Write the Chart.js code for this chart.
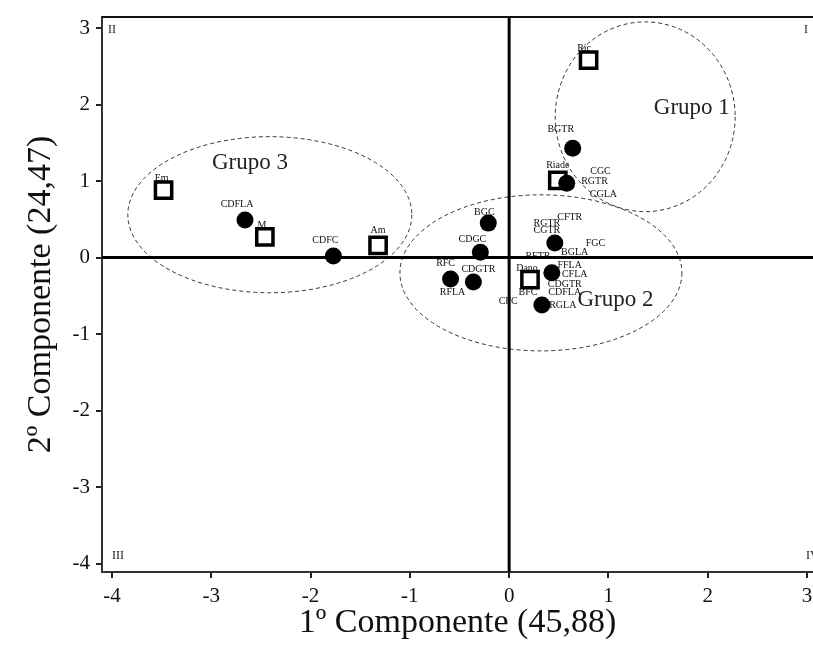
<!DOCTYPE html>
<html>
<head>
<meta charset="utf-8">
<script src="https://cdn.jsdelivr.net/npm/chart.js@4"></script>
<style>
  html, body { margin: 0; padding: 0; background: #fff; overflow: hidden; }
  canvas { display: block; }
</style>
</head>
<body>
<canvas id="c" width="813" height="648"></canvas>
<script>
// ---- data ----
const squareNames = ["Ric", "Riade", "Em", "M", "Am", "Dano"];
const squareX = [0.80, 0.49, -3.48, -2.46, -1.32, 0.21];
const squareY = [2.58, 1.01, 0.88, 0.27, 0.16, -0.29];

const circleNames = ["BGTR", "RGTR", "CDFLA", "CDFC", "BGC", "CDGC", "RFC", "CDGTR", "CGTR", "FFLA", "RGLA"];
const circleX = [0.64, 0.58, -2.66, -1.77, -0.21, -0.29, -0.59, -0.36, 0.46, 0.43, 0.33];
const circleY = [1.43, 0.97, 0.49, 0.02, 0.45, 0.07, -0.28, -0.32, 0.19, -0.20, -0.62];

// text annotations (label anchor in data units)
const labelText = ["Ric", "Riade", "BGTR", "CGC", "RGTR", "CGLA", "Em", "CDFLA", "M", "Am", "CDFC",
  "BGC", "CDGC", "RFC", "CDGTR", "RFLA", "CFTR", "RGTR", "CGTR", "FGC", "BGLA", "RFTR", "Dano",
  "FFLA", "CFLA", "CDGTR", "BFC", "CDFLA", "CFC", "RGLA"];
const labelX = [0.755, 0.49, 0.52, 0.92, 0.86, 0.95, -3.50, -2.74, -2.49, -1.32, -1.85,
  -0.25, -0.37, -0.64, -0.31, -0.57, 0.61, 0.38, 0.38, 0.87, 0.66, 0.29, 0.18,
  0.61, 0.66, 0.56, 0.19, 0.56, -0.01, 0.54];
const labelY = [2.74, 1.20, 1.67, 1.12, 0.99, 0.83, 1.04, 0.70, 0.42, 0.36, 0.23,
  0.59, 0.24, -0.07, -0.16, -0.45, 0.53, 0.45, 0.36, 0.18, 0.07, 0.01, -0.14,
  -0.10, -0.22, -0.35, -0.46, -0.46, -0.57, -0.62];

const groupNames = ["Grupo 1", "Grupo 2", "Grupo 3"];
const groupTextX = [1.84, 1.07, -2.61];
const groupTextY = [1.95, -0.56, 1.24];
const groupCX = [1.37, 0.32, -2.41];
const groupCY = [1.84, -0.20, 0.56];
const groupRX = [0.906, 1.42, 1.43];
const groupRY = [1.24, 1.02, 1.02];

const quadrantNames = ["I", "II", "III", "IV"];
const xTicks = [-4, -3, -2, -1, 0, 1, 2, 3];
const yTicks = [-4, -3, -2, -1, 0, 1, 2, 3];

const SERIF = "'Liberation Serif', 'DejaVu Serif', serif";

const decor = {
  id: 'decor',
  beforeDatasetsDraw(chart) {
    const { ctx, chartArea: a, scales: { x, y } } = chart;
    ctx.save();
    // ellipses
    ctx.strokeStyle = '#333';
    ctx.lineWidth = 1;
    ctx.setLineDash([4, 3]);
    for (let i = 0; i < groupCX.length; i++) {
      const cx = x.getPixelForValue(groupCX[i]);
      const cy = y.getPixelForValue(groupCY[i]);
      const rx = Math.abs(x.getPixelForValue(groupCX[i] + groupRX[i]) - cx);
      const ry = Math.abs(y.getPixelForValue(groupCY[i] + groupRY[i]) - cy);
      ctx.beginPath();
      ctx.ellipse(cx, cy, rx, ry, 0, 0, Math.PI * 2);
      ctx.stroke();
    }
    ctx.setLineDash([]);
    // top frame
    ctx.strokeStyle = '#111';
    ctx.lineWidth = 2;
    ctx.beginPath();
    ctx.moveTo(a.left, a.top);
    ctx.lineTo(a.right, a.top);
    ctx.stroke();
    // small labels
    ctx.fillStyle = '#111';
    ctx.font = "10px " + SERIF;
    ctx.textAlign = 'center';
    ctx.textBaseline = 'middle';
    for (let i = 0; i < labelText.length; i++) {
      ctx.fillText(labelText[i], x.getPixelForValue(labelX[i]), y.getPixelForValue(labelY[i]));
    }
    // zero lines
    ctx.strokeStyle = '#000';
    ctx.lineWidth = 3;
    const x0 = x.getPixelForValue(0), y0 = y.getPixelForValue(0);
    ctx.beginPath();
    ctx.moveTo(a.left, y0); ctx.lineTo(a.right, y0);
    ctx.moveTo(x0, a.top); ctx.lineTo(x0, a.bottom);
    ctx.stroke();
    // group names
    ctx.font = "23px " + SERIF;
    ctx.fillStyle = '#222';
    for (let i = 0; i < groupNames.length; i++) {
      ctx.fillText(groupNames[i], x.getPixelForValue(groupTextX[i]), y.getPixelForValue(groupTextY[i]));
    }
    // quadrant names
    ctx.font = "12px " + SERIF;
    ctx.fillStyle = '#222';
    ctx.textAlign = 'left';
    ctx.fillText(quadrantNames[1], a.left + 6, a.top + 13);
    ctx.fillText(quadrantNames[2], a.left + 10, a.bottom - 16);
    ctx.textAlign = 'right';
    ctx.fillText(quadrantNames[0], a.right - 5, a.top + 13);
    ctx.textAlign = 'left';
    ctx.fillText(quadrantNames[3], a.right - 7, a.bottom - 16);
    ctx.restore();
  }
};

new Chart(document.getElementById('c'), {
  type: 'scatter',
  data: {
    datasets: [
      {
        label: 'Variáveis',
        data: circleX.map((v, i) => ({ x: v, y: circleY[i] })),
        pointStyle: 'circle',
        pointRadius: 8.5,
        pointHoverRadius: 8.5,
        backgroundColor: '#000',
        borderColor: '#000',
        borderWidth: 0
      },
      {
        label: 'Tratamentos',
        data: squareX.map((v, i) => ({ x: v, y: squareY[i] })),
        pointStyle: 'rect',
        pointRadius: 11.5,
        pointHoverRadius: 11.5,
        backgroundColor: '#fff',
        borderColor: '#000',
        borderWidth: 3.5
      }
    ]
  },
  options: {
    responsive: false,
    animation: false,
    events: [],
    layout: { autoPadding: false, padding: { top: 17, right: 0, left: 0, bottom: 0 } },
    plugins: { legend: { display: false }, tooltip: { enabled: false } },
    scales: {
      x: {
        type: 'linear',
        min: -4.1, max: 3.06,
        afterBuildTicks: s => { s.ticks = xTicks.map(v => ({ value: v })); },
        afterFit: s => { s.height = 76; s.paddingLeft = 0; s.paddingRight = 0; },
        ticks: { includeBounds: false, color: '#111', padding: 6, maxRotation: 0, autoSkip: false,
          font: { family: SERIF, size: 21 } },
        grid: { drawOnChartArea: false, drawTicks: true, tickLength: 6, color: '#222', lineWidth: 2 },
        border: { display: true, color: '#333', width: 2 },
        title: { display: true, text: '1º Componente (45,88)', color: '#111',
          font: { family: SERIF, size: 34 }, padding: { top: 0, bottom: 5 } }
      },
      y: {
        type: 'linear',
        min: -4.11, max: 3.144,
        afterBuildTicks: s => { s.ticks = yTicks.map(v => ({ value: v })); },
        afterFit: s => { s.width = 102; s.paddingTop = 0; s.paddingBottom = 0; },
        ticks: { includeBounds: false, color: '#111', padding: 6, autoSkip: false,
          font: { family: SERIF, size: 21 } },
        grid: { drawOnChartArea: false, drawTicks: true, tickLength: 6, color: '#222', lineWidth: 2 },
        border: { display: true, color: '#333', width: 2 },
        title: { display: true, text: '2º Componente (24,47)', color: '#111',
          font: { family: SERIF, size: 34 }, padding: { top: 21, bottom: 0 } }
      }
    }
  },
  plugins: [decor]
});
</script>
</body>
</html>
